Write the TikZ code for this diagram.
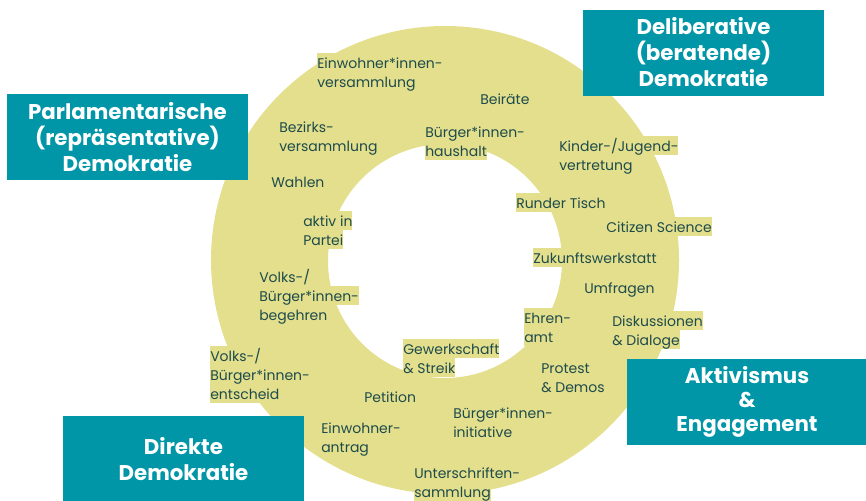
\documentclass[tikz,border=0pt]{standalone}
\usepackage{fontspec}
\setmainfont{Poppins}
\usepackage{xcolor}
\usepackage{tikz}
\definecolor{ringyellow}{HTML}{E3DF8D}
\definecolor{formteal}{HTML}{0096A7}
\definecolor{labelgreen}{HTML}{1E4B4B}
% one highlighted line of a label
\newcommand{\hl}[1]{{\setlength{\fboxsep}{0pt}\colorbox{ringyellow}{\rule[-3pt]{0pt}{14.25pt}#1}}}

\begin{document}
\begin{tikzpicture}[x=0.75pt, y=-0.75pt,
  term/.style={anchor=north west, inner sep=0pt, align=left, text=labelgreen, font=\fontsize{10.5}{14.25}\selectfont},
  formbox/.style={fill=formteal, text=white, inner sep=0pt, align=center, minimum width=180.75pt, minimum height=64.5pt, font=\bfseries\fontsize{16}{19.5}\selectfont}]
  \useasboundingbox (0,0) rectangle (866,500);

  % Ring
  \fill[ringyellow, even odd rule] (445,260) circle[radius=234] (445,261) circle[radius=117];

  % Labels on the ring
  \node[term] (einwohnerversammlung) at (317,53) {\hl{Einwohner*innen-}\\\hl{versammlung}};
  \node[term] (beiraete) at (480,89) {\hl{Beiräte}};
  \node[term] (bezirksversammlung) at (279,117) {\hl{Bezirks-}\\\hl{versammlung}};
  \node[term] (buergerhaushalt) at (425,122) {\hl{Bürger*innen-}\\\hl{haushalt}};
  \node[term] (jugendvertretung) at (559,136) {\hl{Kinder-/Jugend-}\\\hl{vertretung}};
  \node[term] (wahlen) at (271,172) {\hl{Wahlen}};
  \node[term] (rundertisch) at (516,193) {\hl{Runder Tisch}};
  \node[term] (partei) at (303,211) {\hl{aktiv in}\\\hl{Partei}};
  \node[term] (citizenscience) at (606,217) {\hl{Citizen Science}};
  \node[term] (zukunftswerkstatt) at (533,248) {\hl{Zukunftswerkstatt}};
  \node[term] (begehren) at (259,267) {\hl{Volks-/}\\\hl{Bürger*innen-}\\\hl{begehren}};
  \node[term] (umfragen) at (584,278) {\hl{Umfragen}};
  \node[term] (ehrenamt) at (524,308) {\hl{Ehren-}\\\hl{amt}};
  \node[term] (dialoge) at (612,311) {\hl{Diskussionen}\\\hl{\& Dialoge}};
  \node[term] (entscheid) at (210,346) {\hl{Volks-/}\\\hl{Bürger*innen-}\\\hl{entscheid}};
  \node[term] (streik) at (403,339) {\hl{Gewerkschaft}\\\hl{\& Streik}};
  \node[term] (demos) at (541,358) {\hl{Protest}\\\hl{\& Demos}};
  \node[term] (petition) at (364,387) {\hl{Petition}};
  \node[term] (initiative) at (453,403) {\hl{Bürger*innen-}\\\hl{initiative}};
  \node[term] (einwohnerantrag) at (321,418) {\hl{Einwohner-}\\\hl{antrag}};
  \node[term] (unterschriften) at (414,463) {\hl{Unterschriften-}\\\hl{sammlung}};

  % Forms of democracy
  \node[formbox] (parlamentarisch) at (127.5,137) {Parlamentarische\\(repräsentative)\\Demokratie};
  \node[formbox] (deliberativ) at (703.5,52.5) {Deliberative\\(beratende)\\Demokratie};
  \node[formbox, font=\bfseries\fontsize{16}{18}\selectfont] (aktivismus) at (747,402) {Aktivismus\\\&\\Engagement};
  \node[formbox] (direkt) at (183.5,459) {Direkte\\Demokratie};
\end{tikzpicture}
\end{document}
